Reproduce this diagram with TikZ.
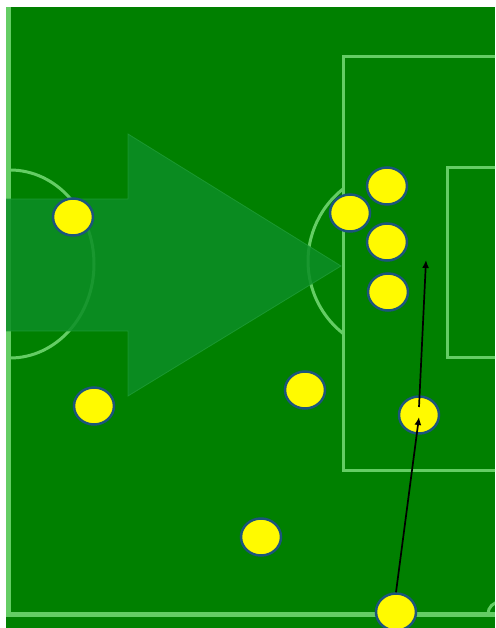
\documentclass[tikz,border=0pt]{standalone}
\usetikzlibrary{shapes.geometric,arrows.meta}
\definecolor{pitch}{RGB}{0,128,0}
\definecolor{pline}{RGB}{100,205,100}
\definecolor{arrowfill}{RGB}{12,142,38}
\definecolor{arrowedge}{RGB}{35,160,60}
\definecolor{ply}{RGB}{255,250,0}
\definecolor{plyedge}{RGB}{28,85,125}
\begin{document}
\begin{tikzpicture}[x=1pt,y=-1pt,
  fieldline/.style={draw=pline,line width=3pt},
  player/.style={ellipse,draw=plyedge,line width=2.5pt,fill=ply,
    minimum width=40pt,minimum height=37pt,inner sep=0pt},
  run/.style={draw=black,line width=1.7pt,-{Latex[length=8pt,width=7pt]}}]
\useasboundingbox (0,0) rectangle (495,628);
\fill[white] (0,0) rectangle (495,628);
\fill[pitch] (6,7) rectangle (495,628);
\begin{scope}
  \clip (6,7) rectangle (495,628);
  % halfway line and touchline
  \draw[fieldline,line width=5pt] (8,7) -- (8,614);
  \draw[fieldline,line width=5pt] (6,614) -- (495,614);
  % centre circle
  \draw[fieldline] (10,264) ellipse[x radius=84pt, y radius=94pt];
  % penalty area
  \draw[fieldline] (500,57) -- (343,57) -- (343,470) -- (500,470);
  % goal area
  \draw[fieldline] (500,168) -- (447,168) -- (447,357) -- (500,357);
  % penalty arc
  \draw[fieldline] (343,189) arc[start angle=128.3,end angle=231.7,radius=92pt];
  % corner arc
  \draw[fieldline] (488,614) arc[start angle=180,end angle=90,radius=12pt];
  % big direction arrow
  \fill[arrowfill,opacity=0.85] (6,199) -- (128,199) -- (128,134) -- (341,266)
    -- (128,396) -- (128,331) -- (6,331) -- cycle;
  \draw[arrowedge,line width=0.8pt,opacity=0.7] (6,199) -- (128,199) -- (128,134) -- (341,266)
    -- (128,396) -- (128,331) -- (6,331);
\end{scope}
% players
\node[player] (p1) at (73,217) {};
\node[player] (p2) at (94,406) {};
\node[player] (p3) at (305,390) {};
\node[player] (p4) at (350,213) {};
\node[player] (p5) at (387,186) {};
\node[player] (p6) at (387,242) {};
\node[player] (p7) at (388,292) {};
\node[player] (p8) at (419,415) {};
\node[player] (p9) at (261,537) {};
\node[player] (p10) at (396,612) {};
\coordinate (t) at (426,260);
% runs
\draw[run] (p10.north) -- ([yshift=-2pt]p8.center);
\draw[run] ([yshift=8pt]p8.center) -- (t);
\end{tikzpicture}
\end{document}
